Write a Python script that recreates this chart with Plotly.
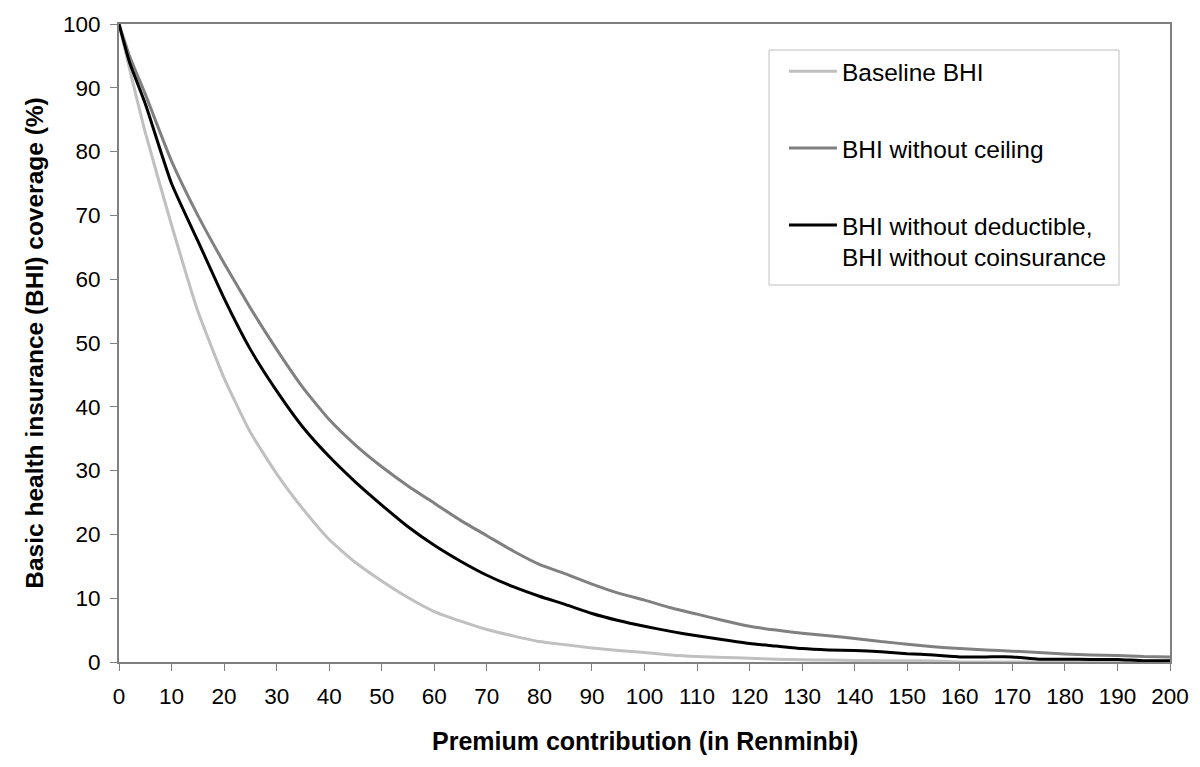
import plotly.graph_objects as go

# Premium contribution (Renminbi)
premium = [0, 2, 5, 10, 15, 20, 25, 30, 35, 40, 45, 50, 55, 60, 65, 70, 75, 80, 85, 90, 95,
           100, 105, 110, 115, 120, 125, 130, 135, 140, 145, 150, 155, 160, 165, 170, 175,
           180, 185, 190, 195, 200]

baseline_bhi = [100, 93, 83, 68.5, 55, 44.5, 36, 29.5, 24, 19.2, 15.6, 12.7, 10.1, 7.9, 6.4,
                5.1, 4.1, 3.2, 2.7, 2.2, 1.8, 1.5, 1.1, 0.85, 0.7, 0.6, 0.45, 0.35, 0.3, 0.25,
                0.2, 0.2, 0.15, 0, 0, 0, 0, 0, 0, 0, 0, 0]

without_ceiling = [100, 95, 89, 78.5, 70, 62.5, 55.5, 49, 43, 38, 34, 30.6, 27.6, 24.9, 22.2,
                   19.8, 17.4, 15.3, 13.8, 12.2, 10.8, 9.7, 8.5, 7.5, 6.5, 5.6, 5.0, 4.5, 4.1,
                   3.7, 3.2, 2.8, 2.4, 2.1, 1.9, 1.7, 1.5, 1.25, 1.1, 1.0, 0.85, 0.8]

without_deductible = [100, 94, 87.5, 75, 66, 57, 49, 42.5, 36.8, 32.2, 28.2, 24.6, 21.2, 18.3,
                      15.8, 13.6, 11.8, 10.3, 9, 7.6, 6.5, 5.6, 4.8, 4.1, 3.5, 2.9, 2.5, 2.1,
                      1.9, 1.8, 1.6, 1.3, 1.1, 0.8, 0.8, 0.8, 0.45, 0.45, 0.4, 0.4, 0.2, 0.2]

series_names = ["Baseline BHI", "BHI without ceiling",
                "BHI without deductible,<br>BHI without coinsurance"]
series_colors = ["#c0c0c0", "#808080", "#000000"]
series_values = [baseline_bhi, without_ceiling, without_deductible]

x_ticks = list(range(0, 201, 10))
y_ticks = list(range(0, 101, 10))

x_title = "Premium contribution (in Renminbi)"
y_title = "Basic health insurance (BHI) coverage (%)"

FONT = "Liberation Sans, Arial, sans-serif"

fig = go.Figure()
for i, (name, color, vals) in enumerate(zip(series_names, series_colors, series_values)):
    fig.add_trace(go.Scatter(
        x=premium, y=vals, mode="lines", name=name,
        line=dict(color=color, width=3, shape="spline", smoothing=0.5),
        legendgroup=f"g{i}",
    ))

# legend frame
fig.add_shape(type="rect", xref="paper", yref="paper",
              x0=0.6185, x1=0.9515, y0=0.5909, y1=0.9592,
              line=dict(color="#c0c0c0", width=1), fillcolor="white", layer="below")

# x axis title
fig.add_annotation(text=f"<b>{x_title}</b>", xref="paper", yref="paper",
                   x=0.5, y=0, xanchor="center", yanchor="middle", yshift=-79,
                   showarrow=False, font=dict(family=FONT, size=25, color="black"))

fig.update_layout(
    width=1192, height=759,
    margin=dict(l=111, r=30, t=16, b=105, autoexpand=False),
    paper_bgcolor="white", plot_bgcolor="white",
    font=dict(family=FONT, size=24, color="black"),
    showlegend=True,
    legend=dict(
        x=0.6327, y=0.9611, xanchor="left", yanchor="top",
        borderwidth=0, bgcolor="rgba(0,0,0,0)",
        font=dict(family=FONT, size=24.5, color="black"),
        tracegroupgap=42, valign="top", itemwidth=48,
    ),
    xaxis=dict(
        range=[0, 200], tickvals=x_ticks, ticktext=[str(v) for v in x_ticks],
        showline=True, linecolor="#808080", linewidth=2, mirror=True,
        ticks="outside", ticklen=7, tickcolor="#808080", tickwidth=1,
        showgrid=False, zeroline=False, automargin=False, ticklabelstandoff=6,
        tickfont=dict(family=FONT, size=22.5, color="black"),
    ),
    yaxis=dict(
        range=[0, 100], tickvals=y_ticks, ticktext=[str(v) for v in y_ticks],
        showline=True, linecolor="#808080", linewidth=2, mirror=True,
        ticks="outside", ticklen=7, tickcolor="#808080", tickwidth=1,
        showgrid=False, zeroline=False, automargin=False, ticklabelstandoff=5,
        tickfont=dict(family=FONT, size=22.5, color="black"),
        title=dict(text=f"<b>{y_title}</b>",
                   font=dict(family=FONT, size=24.5, color="black"), standoff=12),
    ),
)

fig.write_html("out.html")
